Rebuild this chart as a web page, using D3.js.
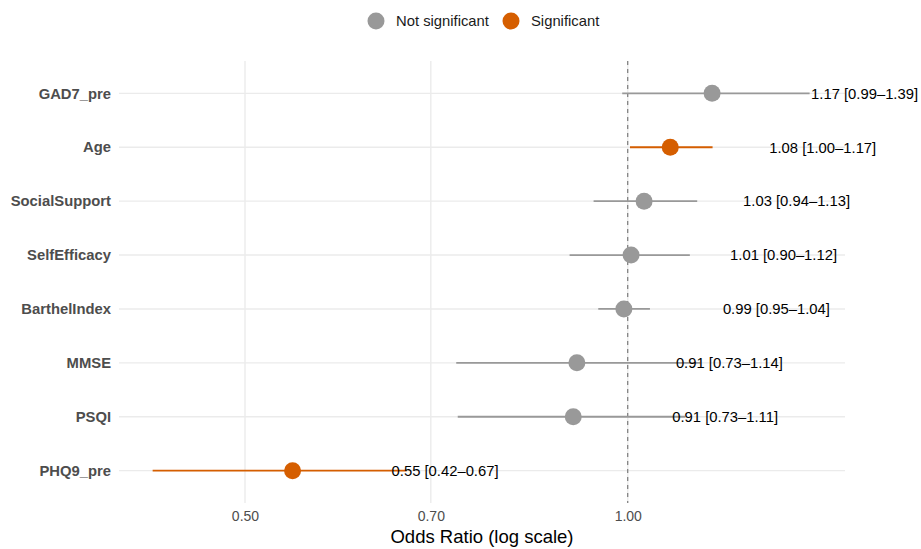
<!DOCTYPE html>
<html>
<head>
<meta charset="utf-8">
<script src="https://cdn.jsdelivr.net/npm/d3@7"></script>
<style>
  body { margin: 0; background: #fff; }
  svg { display: block; font-family: 'Liberation Sans', Arial, sans-serif; }
</style>
</head>
<body>
<div id="chart"></div>
<script>
// values
const variables = ['GAD7_pre', 'Age', 'SocialSupport', 'SelfEfficacy', 'BarthelIndex', 'MMSE', 'PSQI', 'PHQ9_pre'];
const oddsRatio = [1.165, 1.08, 1.03, 1.006, 0.993, 0.912, 0.906, 0.545];
const ciLower   = [0.99, 1.004, 0.94, 0.90, 0.948, 0.733, 0.735, 0.423];
const ciUpper   = [1.39, 1.166, 1.134, 1.119, 1.041, 1.14, 1.11, 0.67];
const significant = [false, true, false, false, false, false, false, true];
const labels = [
  '1.17 [0.99\u20131.39]',
  '1.08 [1.00\u20131.17]',
  '1.03 [0.94\u20131.13]',
  '1.01 [0.90\u20131.12]',
  '0.99 [0.95\u20131.04]',
  '0.91 [0.73\u20131.14]',
  '0.91 [0.73\u20131.11]',
  '0.55 [0.42\u20130.67]'
];
const xTicks = [0.5, 0.7, 1.0];
const legendItems = ['Not significant', 'Significant'];

const data = variables.map((v, i) => ({
  name: v,
  or: oddsRatio[i],
  lo: ciLower[i],
  hi: ciUpper[i],
  sig: significant[i],
  label: labels[i]
}));

const colour = d3.scaleOrdinal()
    .domain([false, true])
    .range(['#999999', '#D55E00']);

const svg = d3.select('#chart')
  .append('svg')
    .attr('width', 921)
    .attr('height', 549);

const panel = { left: 119, right: 845, top: 61, bottom: 503 };

const x = d3.scaleLog()
    .domain([0.398, 1.482])
    .range([panel.left, panel.right]);

const y = d3.scalePoint()
    .domain(variables)
    .range([panel.top, panel.bottom])
    .padding(0.6);

// grid
svg.append('g')
  .selectAll('line')
    .data(variables)
  .join('line')
    .attr('x1', panel.left)
    .attr('x2', panel.right)
    .attr('y1', d => y(d))
    .attr('y2', d => y(d))
    .attr('stroke', '#ebebeb')
    .attr('stroke-width', 1.4);

svg.append('g')
  .selectAll('line')
    .data(xTicks)
  .join('line')
    .attr('x1', d => x(d))
    .attr('x2', d => x(d))
    .attr('y1', panel.top)
    .attr('y2', panel.bottom)
    .attr('stroke', '#ebebeb')
    .attr('stroke-width', 1.4);

// x axis labels
const xAxis = svg.append('g')
    .attr('transform', `translate(0,${panel.bottom})`)
    .call(d3.axisBottom(x).tickValues(xTicks).tickFormat(d3.format('.2f')).tickSize(0).tickPadding(8));
xAxis.select('.domain').remove();
xAxis.selectAll('text')
    .attr('font-size', '14px')
    .attr('font-family', 'Liberation Sans, Arial, sans-serif')
    .attr('fill', '#4d4d4d');

// y axis labels
const yAxis = svg.append('g')
    .attr('transform', `translate(${panel.left},0)`)
    .call(d3.axisLeft(y).tickSize(0).tickPadding(8));
yAxis.select('.domain').remove();
yAxis.selectAll('text')
    .attr('font-size', '14.8px')
    .attr('font-weight', 'bold')
    .attr('font-family', 'Liberation Sans, Arial, sans-serif')
    .attr('fill', '#4d4d4d');

// reference line at OR = 1
svg.append('line')
    .attr('x1', x(1))
    .attr('x2', x(1))
    .attr('y1', panel.top)
    .attr('y2', panel.bottom)
    .attr('stroke', '#666666')
    .attr('stroke-width', 1)
    .attr('stroke-dasharray', '4,4');

const rows = svg.append('g')
  .selectAll('g')
    .data(data)
  .join('g');

rows.append('line')
    .attr('x1', d => x(d.lo))
    .attr('x2', d => x(d.hi))
    .attr('y1', d => y(d.name))
    .attr('y2', d => y(d.name))
    .attr('stroke', d => colour(d.sig))
    .attr('stroke-width', 1.8);

rows.append('circle')
    .attr('cx', d => x(d.or))
    .attr('cy', d => y(d.name))
    .attr('r', 8.5)
    .attr('fill', d => colour(d.sig));

rows.append('text')
    .attr('x', d => x(d.or) + 99)
    .attr('y', d => y(d.name))
    .attr('dy', '0.36em')
    .attr('font-size', '14.8px')
    .attr('fill', '#000')
    .text(d => d.label);

// axis title
svg.append('text')
    .attr('x', (panel.left + panel.right) / 2)
    .attr('y', 543)
    .attr('text-anchor', 'middle')
    .attr('font-size', '18.5px')
    .attr('fill', '#000')
    .text('Odds Ratio (log scale)');

// legend
const legend = svg.append('g')
  .selectAll('g')
    .data(legendItems)
  .join('g')
    .attr('transform', (_, i) => `translate(${i === 0 ? 376 : 511},21)`);

legend.append('circle')
    .attr('r', 8.5)
    .attr('fill', (_, i) => colour(i === 1));

legend.append('text')
    .attr('x', 20)
    .attr('dy', '0.36em')
    .attr('font-size', '14.8px')
    .attr('fill', '#1a1a1a')
    .text(d => d);
</script>
</body>
</html>
